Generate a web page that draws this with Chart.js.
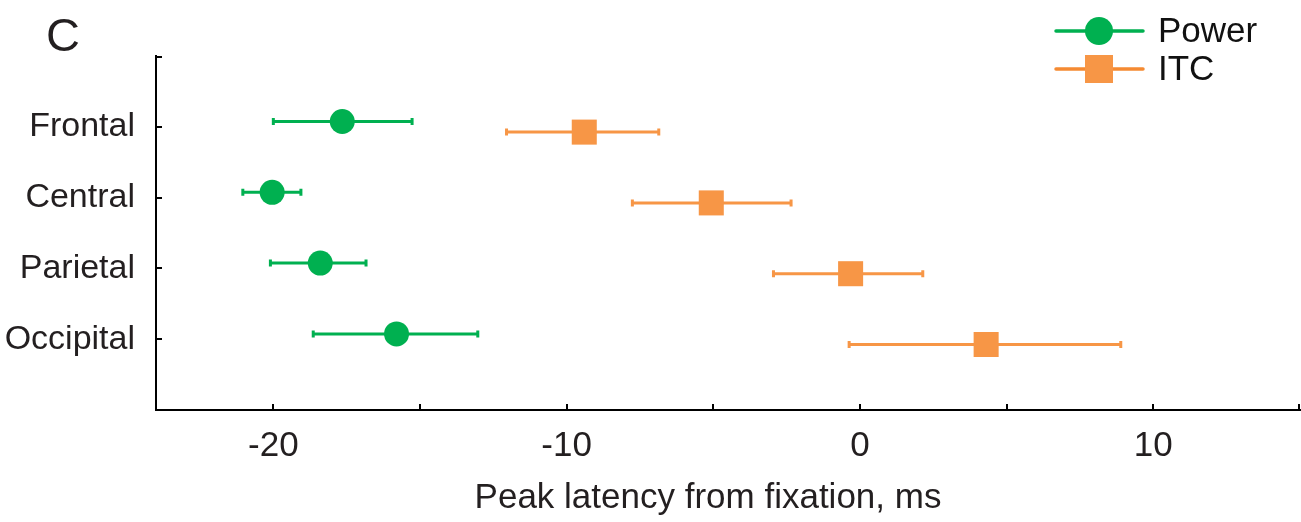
<!DOCTYPE html>
<html><head><meta charset="utf-8">
<script src="https://cdn.jsdelivr.net/npm/chart.js@4.4.1/dist/chart.umd.min.js"></script>
<style>html,body{margin:0;padding:0;background:#fff;}#wrap{width:1301px;height:522px;}</style>
</head><body><div id="wrap"><canvas id="c" width="1301" height="522"></canvas></div>
<script>
const categories = ['Frontal', 'Central', 'Parietal', 'Occipital'];
const powerMean = [-17.65, -20.04, -18.4, -15.8];
const powerLow  = [-20.0, -21.04, -20.1, -18.64];
const powerHigh = [-15.27, -19.06, -16.84, -13.03];
const itcMean = [-9.4, -5.07, -0.32, 4.3];
const itcLow  = [-12.05, -7.76, -2.95, -0.37];
const itcHigh = [-6.86, -2.35, 2.14, 8.89];
const xTickValues = [-20, -15, -10, -5, 0, 5, 10, 15];
const xTickLabels = ['-20', '', '-10', '', '0', '', '10', ''];
const seriesNames = ['Power', 'ITC'];
const xAxisTitle = 'Peak latency from fixation, ms';
const panelLetter = 'C';

const FONT = "'Liberation Sans', Arial, Helvetica, sans-serif";
const TEXT = '#231f20';
const GREEN = '#00b050';
const ORANGE = '#f79646';
const ORANGE_LINE = '#f58a32';

function build(mean, low, high, off) {
  return mean.map((m, i) => ({ x: m, y: i + 1 + off, low: low[i], high: high[i] }));
}

const errorBars = {
  id: 'errorBars',
  beforeDatasetsDraw(chart) {
    const { ctx, scales: { x, y } } = chart;
    chart.data.datasets.forEach(ds => {
      ctx.save();
      ctx.strokeStyle = ds.errorColor;
      ctx.lineWidth = 3;
      ds.data.forEach(p => {
        const py = y.getPixelForValue(p.y);
        const x0 = x.getPixelForValue(p.low), x1 = x.getPixelForValue(p.high);
        ctx.beginPath();
        ctx.moveTo(x0, py); ctx.lineTo(x1, py);
        ctx.moveTo(x0, py - 3.5); ctx.lineTo(x0, py + 3.5);
        ctx.moveTo(x1, py - 3.5); ctx.lineTo(x1, py + 3.5);
        ctx.stroke();
      });
      ctx.restore();
    });
  }
};

const inwardTicks = {
  id: 'inwardTicks',
  afterDraw(chart) {
    const { ctx, scales: { x, y }, chartArea } = chart;
    ctx.save();
    ctx.strokeStyle = '#000';
    ctx.lineWidth = 2;
    ctx.beginPath();
    xTickValues.forEach(v => {
      let px = Math.round(x.getPixelForValue(v));
      if (px > chartArea.right - 1) px = chartArea.right - 1;
      ctx.moveTo(px, chartArea.bottom); ctx.lineTo(px, chartArea.bottom - 6);
    });
    [0, 1, 2, 3, 4].forEach(v => {
      let py = Math.round(y.getPixelForValue(v));
      if (py < chartArea.top + 1) py = chartArea.top + 1;
      ctx.moveTo(chartArea.left, py); ctx.lineTo(chartArea.left + 6, py);
    });
    ctx.stroke();
    ctx.restore();
  }
};

const extras = {
  id: 'extras',
  afterDraw(chart) {
    const { ctx, chartArea } = chart;
    ctx.save();
    // panel letter
    ctx.fillStyle = TEXT;
    ctx.font = '47px ' + FONT;
    ctx.textAlign = 'left';
    ctx.textBaseline = 'alphabetic';
    ctx.fillText(panelLetter, chartArea.left - 110, chartArea.top - 5);
    // x axis title
    ctx.font = '35px ' + FONT;
    ctx.textAlign = 'center';
    ctx.fillText(xAxisTitle, chartArea.left + 552, chartArea.bottom + 98);
    // legend
    ctx.textAlign = 'left';
    const lx0 = chartArea.right - 244, lx1 = chartArea.right - 157, mx = chartArea.right - 201;
    const rows = [chartArea.top - 25, chartArea.top + 13];
    chart.data.datasets.forEach((ds, i) => {
      const yy = rows[i];
      ctx.strokeStyle = ds.legendLine;
      ctx.lineWidth = 3.5;
      ctx.lineCap = 'round';
      ctx.beginPath(); ctx.moveTo(lx0, yy); ctx.lineTo(lx1, yy); ctx.stroke();
      ctx.fillStyle = ds.backgroundColor;
      if (ds.pointStyle === 'circle') {
        ctx.beginPath(); ctx.arc(mx, yy, 14, 0, Math.PI * 2); ctx.fill();
      } else {
        ctx.fillRect(mx - 14, yy - 14, 28, 28);
      }
      ctx.fillStyle = '#111';
      ctx.font = '35px ' + FONT;
      ctx.textBaseline = 'middle';
      ctx.fillText(ds.label, chartArea.right - 142, yy + 1);
    });
    ctx.restore();
  }
};

new Chart(document.getElementById('c'), {
  type: 'scatter',
  data: {
    datasets: [
      {
        label: seriesNames[0],
        data: build(powerMean, powerLow, powerHigh, -0.075),
        pointStyle: 'circle', pointRadius: 12.5, pointHoverRadius: 12.5,
        backgroundColor: GREEN, borderColor: GREEN, borderWidth: 0,
        errorColor: GREEN, legendLine: GREEN
      },
      {
        label: seriesNames[1],
        data: build(itcMean, itcLow, itcHigh, 0.075),
        pointStyle: 'rect', pointRadius: 17.7, pointHoverRadius: 17.7,
        backgroundColor: ORANGE, borderColor: ORANGE, borderWidth: 0,
        errorColor: ORANGE, legendLine: ORANGE_LINE
      }
    ]
  },
  options: {
    responsive: false,
    animation: false,
    events: [],
    layout: { autoPadding: false, padding: { left: 0, top: 56, right: 1, bottom: 0 } },
    scales: {
      x: {
        type: 'linear', min: -24, max: 15,
        grid: { display: false },
        border: { display: true, color: '#000', width: 2 },
        afterBuildTicks(scale) { scale.ticks = xTickValues.map(v => ({ value: v })); },
        ticks: {
          autoSkip: false, maxRotation: 0, padding: 7,
          color: TEXT, font: { size: 35, family: FONT },
          callback(v) { const i = xTickValues.indexOf(v); return i >= 0 ? xTickLabels[i] : ''; }
        },
        title: { display: false, text: xAxisTitle },
        afterFit(scale) { scale.height = 112; scale.paddingLeft = 0; scale.paddingRight = 0; }
      },
      y: {
        type: 'linear', min: 0, max: 5, reverse: true,
        grid: { display: false },
        border: { display: true, color: '#000', width: 2 },
        afterBuildTicks(scale) { scale.ticks = [1, 2, 3, 4].map(v => ({ value: v })); },
        ticks: {
          autoSkip: false, padding: 13,
          color: TEXT, font: { size: 34, family: FONT },
          callback(v) { return categories[v - 1] || ''; }
        },
        afterFit(scale) { scale.width = 156; scale.paddingTop = 0; scale.paddingBottom = 0; }
      }
    },
    plugins: {
      legend: { display: false },
      tooltip: { enabled: false }
    }
  },
  plugins: [errorBars, inwardTicks, extras]
});
</script>
</body></html>
